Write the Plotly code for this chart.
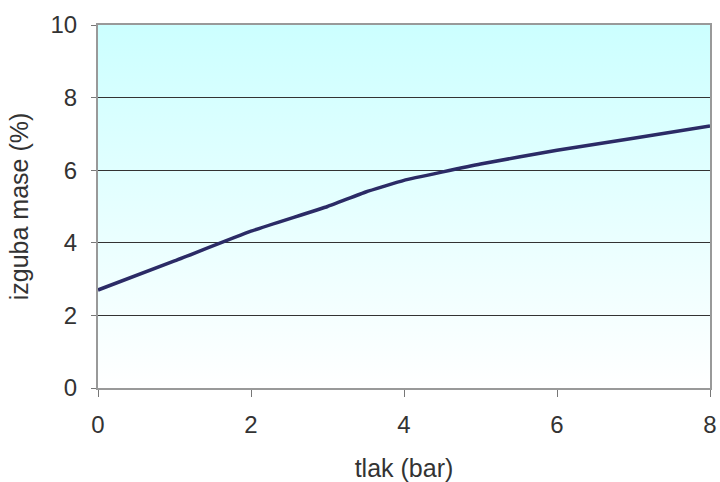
import plotly.graph_objects as go
import urllib.parse

# Data
pressure_bar = [0, 1, 2, 3, 3.5, 4, 5, 6, 7, 8]
mass_loss_pct = [2.7, 3.5, 4.32, 5.0, 5.4, 5.72, 6.17, 6.55, 6.88, 7.22]
x_ticks = [0, 2, 4, 6, 8]
y_ticks = [0, 2, 4, 6, 8, 10]
x_title = "tlak (bar)"
y_title = "izguba mase (%)"

FONT = "Liberation Sans, Arial, sans-serif"

svg = ('<svg xmlns="http://www.w3.org/2000/svg" width="100" height="100" preserveAspectRatio="none">'
       '<defs><linearGradient id="g" x1="0" y1="0" x2="0" y2="1">'
       '<stop offset="0" stop-color="#CCFFFF"/><stop offset="1" stop-color="#FFFFFF"/>'
       '</linearGradient></defs><rect width="100" height="100" fill="url(#g)"/></svg>')
bg_src = "data:image/svg+xml;charset=utf-8," + urllib.parse.quote(svg)

fig = go.Figure()
fig.add_trace(go.Scatter(
    x=pressure_bar, y=mass_loss_pct, mode="lines",
    line=dict(color="#2B2B66", width=3.5, shape="spline", smoothing=0.3),
    showlegend=False, hoverinfo="skip"))

fig.add_layout_image(dict(
    source=bg_src, xref="paper", yref="paper", x=0, y=1, sizex=1, sizey=1,
    xanchor="left", yanchor="top", sizing="stretch", layer="below"))

fig.update_layout(
    width=720, height=482,
    margin=dict(l=98, r=10, t=25, b=94, autoexpand=False),
    paper_bgcolor="white", plot_bgcolor="white",
    font=dict(family=FONT, size=24, color="#333333"),
    xaxis=dict(
        range=[0, 8], tickvals=x_ticks, ticks="outside", ticklen=7, tickcolor="#777777",
        showline=True, linecolor="#999999", linewidth=2, mirror=True,
        showgrid=False, zeroline=False, ticklabelstandoff=7, automargin=False,
        tickfont=dict(size=24),
        title=dict(text=x_title, standoff=23, font=dict(size=25)),
    ),
    yaxis=dict(
        range=[0, 10], tickvals=y_ticks, ticks="outside", ticklen=5, tickcolor="#777777",
        showline=True, linecolor="#999999", linewidth=2, mirror=True,
        showgrid=True, gridcolor="#333333", gridwidth=1, zeroline=False,
        ticklabelstandoff=9, automargin=False,
        tickfont=dict(size=24),
        title=dict(text=y_title, standoff=15, font=dict(size=25)),
    ),
)

fig.write_html("out.html")
